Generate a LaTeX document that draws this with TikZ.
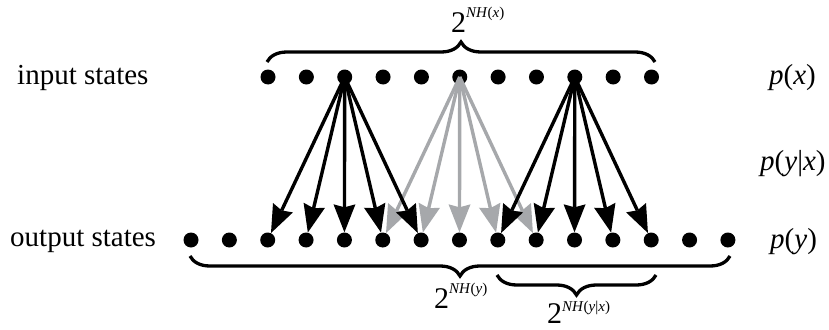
\documentclass[tikz,border=0pt]{standalone}
\usepackage{fontspec}
\setmainfont{Liberation Serif}
\newfontfamily\tnr{Liberation Serif}
\usetikzlibrary{arrows.meta,decorations.pathreplacing}
\definecolor{arrgray}{RGB}{166,168,171}
\newcommand\myexpo[2][15pt]{\raisebox{#1}{\fontsize{15}{15}\selectfont #2}}
\begin{document}
\begin{tikzpicture}[x=1pt,y=-1pt,
  dot/.style={circle,fill=black,inner sep=0pt,minimum size=15pt},
  arr/.style={line width=3.4pt,-{Stealth[length=28pt,width=22pt,inset=3pt,line width=0pt]}},
  blackarr/.style={arr,draw=black},
  grayarr/.style={arr,draw=arrgray},
  lbl/.style={font=\tnr\fontsize{29}{34}\selectfont,inner sep=0pt,anchor=base west},
  twolbl/.style={font=\tnr\fontsize{30}{34}\selectfont,inner sep=0pt,anchor=base west},
  brc/.style={decorate,decoration={brace,amplitude=20pt},line width=3.3pt},
  brcm/.style={decorate,decoration={brace,amplitude=20pt,mirror},line width=3.3pt},
  ]
\useasboundingbox (0,0) rectangle (829,329);
\foreach \i in {0,...,10} \node[dot] (in\i) at ({268+38.35*\i},77) {};
\foreach \i in {0,...,14} \node[dot] (out\i) at ({191+38.35*\i},240) {};
% arrows
\foreach \k in {5,...,9} \draw[grayarr] (in5.center) -- (out\k);
\foreach \k in {2,...,6} \draw[blackarr] (in2.center) -- (out\k);
\foreach \k in {8,...,12} \draw[blackarr] (in8.center) -- (out\k);
% braces
\coordinate (tbL) at (267,62);
\coordinate (tbR) at (655,62);
\coordinate (bbL) at (190,256);
\coordinate (bbR) at (730,256);
\coordinate (sbL) at (497,275);
\coordinate (sbR) at (656,275);
\draw[brc] (tbL) -- (tbR);
\draw[brcm] (bbL) -- (bbR);
\draw[brcm] (sbL) -- (sbR);
% labels
\node[lbl] (inlab) at (17,84) {input states};
\node[lbl] (outlab) at (10,246) {output states};
\node[lbl] (px) at (769,84) {\textit{p}(\textit{x})};
\node[lbl] (pyx) at (760,170) {\textit{p}(\textit{y}|\textit{x})};
\node[lbl] (py) at (770,248) {\textit{p}(\textit{y})};
\node[twolbl] (hx) at (451,33) {2\myexpo{\textit{NH}(\textit{x})}};
\node[twolbl] (hy) at (434,308) {2\myexpo{\textit{NH}(\textit{y})}};
\node[twolbl] (hyx) at (547,323) {2\myexpo[12pt]{\textit{NH}(\textit{y}|\textit{x})}};
\end{tikzpicture}
\end{document}
